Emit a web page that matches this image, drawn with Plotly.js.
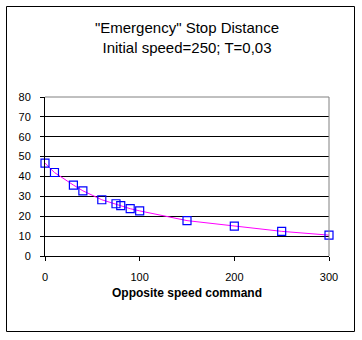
<!DOCTYPE html>
<html>
<head>
<meta charset="utf-8">
<script src="https://cdn.plot.ly/plotly-3.0.1.min.js"></script>
<style>
html,body{margin:0;padding:0;background:#fff;}
#chart{width:362px;height:340px;}
</style>
</head>
<body>
<div id="chart"></div>
<script>
const speedCommand = [0, 10, 30, 40, 60, 75, 80, 90, 100, 150, 200, 250, 300];
const stopDistance = [46.7, 42, 35.7, 32.8, 28.3, 26.3, 25.3, 23.8, 22.7, 17.8, 15, 12.4, 10.5];
const xTicks = [0, 100, 200, 300];
const yTicks = [0, 10, 20, 30, 40, 50, 60, 70, 80];

const L = 45, R = 33, T = 97, B = 84;
const pw = 362 - L - R, ph = 340 - T - B;
const px = v => (v - L) / pw;
const py = v => (340 - B - v) / ph;

const trace = {
  x: speedCommand, y: stopDistance, type: 'scatter', mode: 'lines+markers',
  line: {color: '#ff00ff', width: 1},
  marker: {symbol: 'square-open', size: 8, color: '#0000ff', line: {width: 1.2, color: '#0000ff'}},
  cliponaxis: false, hoverinfo: 'skip'
};

const layout = {
  width: 362, height: 340,
  margin: {l: L, r: R, t: T, b: B},
  paper_bgcolor: '#fff', plot_bgcolor: '#fff',
  showlegend: false,
  font: {family: 'Arial, "Liberation Sans", sans-serif', color: '#000', size: 11},
  title: {
    text: '"Emergency" Stop Distance<br>Initial speed=250; T=0,03',
    font: {size: 15, color: '#000'},
    x: 0.5, xanchor: 'center', xref: 'paper',
    y: 1 - 33/340, yanchor: 'top', yref: 'container'
  },
  xaxis: {
    range: [0, 300], tickvals: xTicks, ticktext: xTicks.map(String),
    showgrid: false, zeroline: false, showline: true, linecolor: '#000', linewidth: 1,
    ticks: 'outside', ticklen: 4, tickcolor: '#000', ticklabelstandoff: 7,
    tickfont: {size: 11},
    fixedrange: true
  },
  yaxis: {
    range: [0, 80], tickvals: yTicks, ticktext: yTicks.map(String),
    showgrid: true, gridcolor: '#000', gridwidth: 1,
    zeroline: false, showline: true, linecolor: '#000', linewidth: 1,
    ticks: 'outside', ticklen: 4, tickcolor: '#000', ticklabelstandoff: 7,
    tickfont: {size: 11},
    fixedrange: true
  },
  annotations: [
    {text: '<b>Opposite speed command</b>', xref: 'paper', yref: 'paper', x: 0.5, y: py(293),
     xanchor: 'center', yanchor: 'middle', showarrow: false, font: {size: 12, color: '#000'}}
  ],
  shapes: [
    {type: 'line', xref: 'paper', yref: 'paper', x0: 0, x1: 1, y0: 1, y1: 1, line: {color: '#808080', width: 1}},
    {type: 'line', xref: 'paper', yref: 'paper', x0: 1, x1: 1, y0: 0, y1: 1, line: {color: '#808080', width: 1}},
    {type: 'rect', xref: 'paper', yref: 'paper', x0: px(6.5), x1: px(354.5), y0: py(331.5), y1: py(6.5), line: {color: '#000', width: 1}, fillcolor: 'rgba(0,0,0,0)'}
  ]
};

Plotly.newPlot('chart', [trace], layout, {staticPlot: true, displayModeBar: false});
</script>
</body>
</html>
